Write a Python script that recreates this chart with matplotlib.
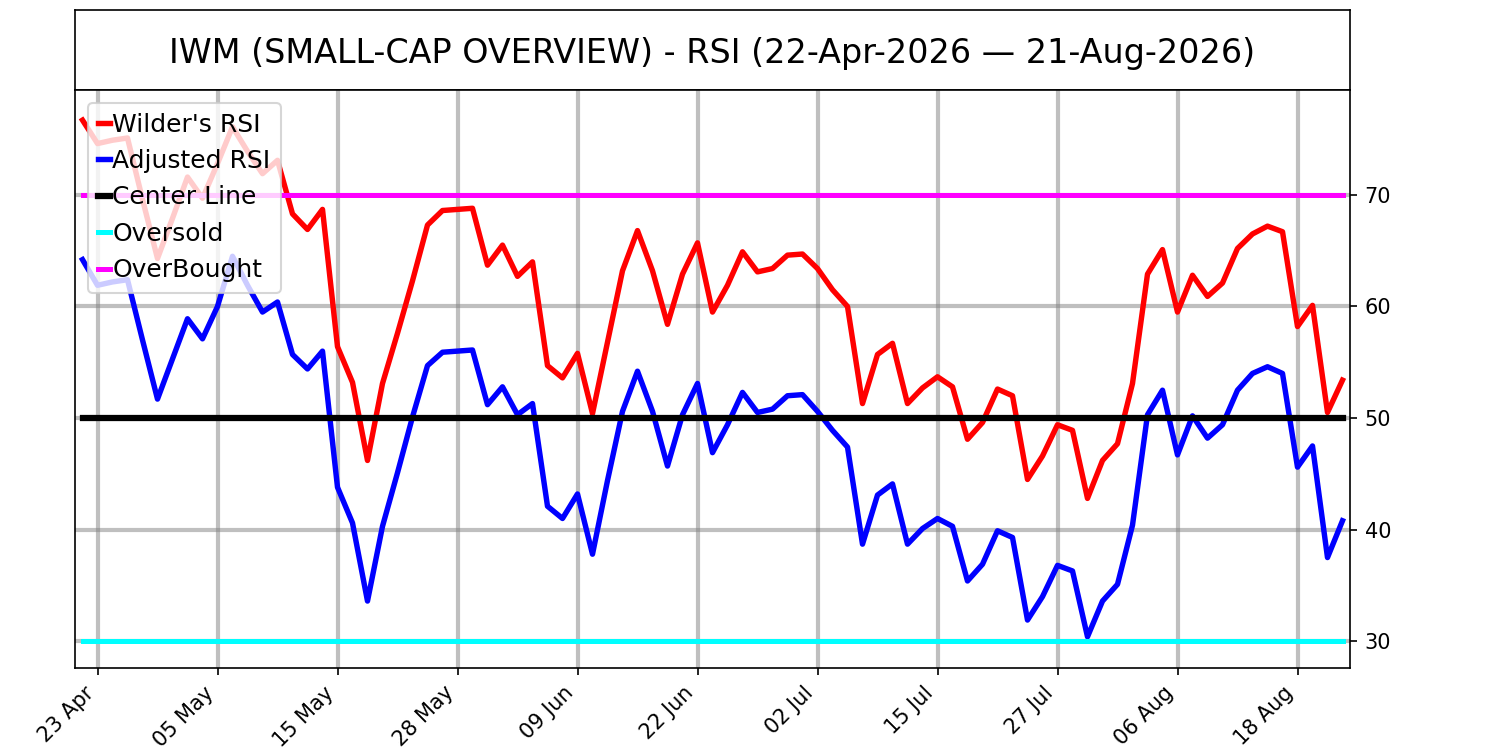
import pandas as pd
import matplotlib
matplotlib.use("Agg")
import matplotlib.pyplot as plt


TICKER = "IWM"
NOME = "SMALL-CAP OVERVIEW"
INICIO = "2026-04-22"
FIM = "2026-08-21"
FERIADOS = ["2026-05-25", "2026-06-19", "2026-07-03"]

wilder_rsi = [
    76.7, 74.6, 74.9, 75.1, 69.6, 64.3, 67.9, 71.6, 69.7, 72.8,
    76.1, 73.9, 71.9, 73.1, 68.3, 66.9, 68.7, 56.4, 53.2, 46.2,
    53.1, 57.6, 62.3, 67.3, 68.6, 68.7, 68.8, 63.7, 65.5, 62.7,
    64.0, 54.7, 53.6, 55.8, 50.4, 56.8, 63.2, 66.8, 63.2, 58.4,
    62.9, 65.7, 59.5, 61.9, 64.9, 63.1, 63.4, 64.6, 64.7, 63.4,
    61.5, 60.0, 51.3, 55.7, 56.7, 51.3, 52.7, 53.7, 52.8, 48.1,
    49.6, 52.6, 52.0, 44.5, 46.6, 49.4, 48.9, 42.8, 46.2, 47.7,
    53.1, 62.9, 65.1, 59.5, 62.8, 60.9, 62.1, 65.2, 66.5, 67.2,
    66.7, 58.2, 60.1, 50.5, 53.4,
]

adjusted_rsi = [
    64.2, 61.9, 62.2, 62.4, 57.0, 51.7, 55.3, 58.9, 57.1, 60.0,
    64.5, 61.9, 59.5, 60.4, 55.7, 54.4, 56.0, 43.8, 40.6, 33.6,
    40.3, 45.1, 50.1, 54.7, 55.9, 56.0, 56.1, 51.2, 52.8, 50.3,
    51.3, 42.1, 41.0, 43.2, 37.8, 44.4, 50.6, 54.2, 50.6, 45.7,
    50.3, 53.1, 46.9, 49.4, 52.3, 50.5, 50.8, 52.0, 52.1, 50.6,
    48.9, 47.4, 38.7, 43.1, 44.1, 38.7, 40.1, 41.0, 40.3, 35.4,
    36.9, 39.9, 39.3, 31.9, 34.0, 36.8, 36.3, 30.4, 33.6, 35.1,
    40.4, 50.3, 52.5, 46.7, 50.2, 48.2, 49.4, 52.5, 54.0, 54.6,
    54.0, 45.6, 47.5, 37.5, 40.8,
]

CENTRO = 50
SOBREVENDIDO = 30
SOBRECOMPRADO = 70


def plotar_rsi(caminho_saida="out.png"):
    datas = pd.bdate_range(INICIO, FIM)
    datas = datas[~datas.isin(pd.to_datetime(FERIADOS))]
    df = pd.DataFrame({"wilder": wilder_rsi, "ajustado": adjusted_rsi}, index=datas)
    x = range(len(df))

    fig = plt.figure(figsize=(10, 5), dpi=150)
    ax_titulo = fig.add_axes([0.05, 0.88, 0.85, 0.1067])
    ax = fig.add_axes([0.05, 0.1093, 0.85, 0.7707])

    ax_titulo.set_xticks([])
    ax_titulo.set_yticks([])
    ax_titulo.text(0.5, 0.46,
                   f"{TICKER} ({NOME}) - RSI ({datas[0]:%d-%b-%Y} \u2014 {datas[-1]:%d-%b-%Y})",
                   ha="center", va="center", fontsize=16, transform=ax_titulo.transAxes)

    ax.plot(x, df["wilder"], color="red", linewidth=2.6, label="Wilder's RSI")
    ax.plot(x, df["ajustado"], color="blue", linewidth=2.6, label="Adjusted RSI")
    ax.plot(x, [CENTRO] * len(df), color="black", linewidth=3, label="Center Line")
    ax.plot(x, [SOBREVENDIDO] * len(df), color="cyan", linewidth=2.4, label="Oversold")
    ax.plot(x, [SOBRECOMPRADO] * len(df), color="magenta", linewidth=2.4, label="OverBought")

    posicoes = list(range(1, len(df), 8))
    ax.set_xticks(posicoes)
    ax.set_xticklabels([datas[p].strftime("%d %b") for p in posicoes], rotation=45, ha="right")
    ax.set_yticks([30, 40, 50, 60, 70])
    ax.yaxis.tick_right()
    ax.set_xlim(-0.5, len(df) - 0.5)
    ax.set_ylim(27.6, 79.4)
    ax.grid(True, color="gray", alpha=0.5, linewidth=2)

    ax.legend(loc="upper left", fontsize=12, handlelength=0.5, handletextpad=0.1)

    plt.savefig(caminho_saida, dpi=150)
    plt.close()


if __name__ == "__main__":
    plotar_rsi()
